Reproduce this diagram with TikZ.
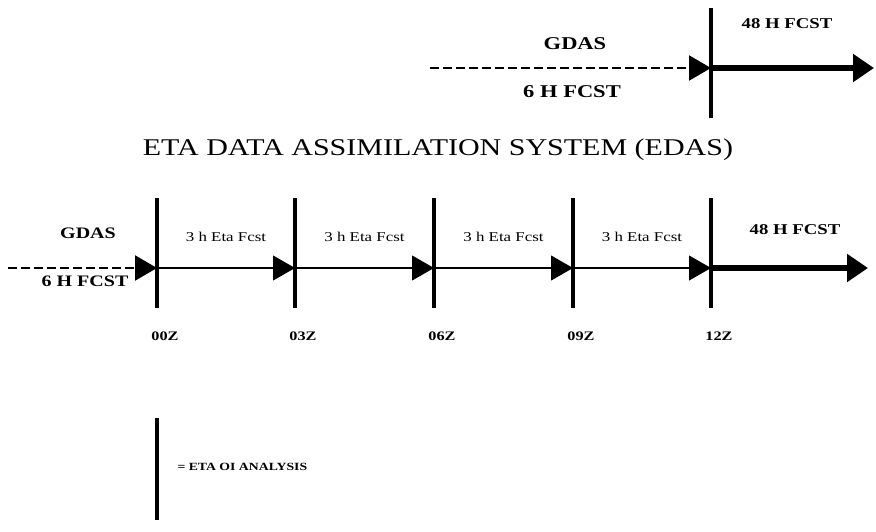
\documentclass[tikz,border=0pt]{standalone}
\usepackage{fontspec}
\setmainfont{Liberation Serif}
\newfontfamily\scanfont[FakeStretch=1.25]{Liberation Serif}
\usetikzlibrary{arrows.meta,calc}

\tikzstyle{fonte} = [font=\scanfont\bfseries\fontsize{18}{18}\selectfont]
\tikzstyle{fontemid} = [font=\scanfont\bfseries\fontsize{16}{16}\selectfont]
\tikzstyle{fontesmall} = [font=\scanfont\bfseries\fontsize{15}{15}\selectfont]
\tikzstyle{fontetime} = [font=\scanfont\bfseries\fontsize{13}{13}\selectfont]
\tikzstyle{fonteeta} = [font=\scanfont\fontsize{13.5}{13.5}\selectfont]
\tikzstyle{fontetiny} = [font=\scanfont\bfseries\fontsize{11}{11}\selectfont]
\tikzstyle{titlefont} = [font=\scanfont\fontsize{24}{24}\selectfont]
\tikzstyle{tick} = [line width=3.4pt]
\tikzstyle{gdas} = [line width=2.2pt, dash pattern=on 9pt off 4pt, -{Triangle[length=22pt,width=25pt]}]
\tikzstyle{eta} = [line width=1.1pt, -{Triangle[length=22pt,width=25pt]}]
\tikzstyle{fcst} = [line width=6pt, -{Triangle[length=21pt,width=27pt]}]

\begin{document}
\begin{tikzpicture}[x=1pt, y=-1pt]

    \useasboundingbox (0,0) rectangle (876,531);

    % GDAS cycle
    \coordinate (gstart) at (430,68);
    \coordinate (ganl) at (711,68);
    \coordinate (gend) at (874,68);
    \draw [tick] (711,8) -- (711,118);
    \draw [gdas] (gstart) -- (ganl);
    \draw [fcst] (ganl) -- (gend);
    \node at (575,44) [fonte] (ggdas) {GDAS};
    \node at (572,92) [fonte] (gsix) {6 H FCST};
    \node at (787,24) [fontesmall] (gfcst) {48 H FCST};

    % title
    \node at (438,150) [titlefont] (title) {ETA DATA ASSIMILATION SYSTEM (EDAS)};

    % EDAS cycle
    \coordinate (estart) at (8,268);
    \foreach \n/\x/\t in {0/157/00Z, 1/295/03Z, 2/434/06Z, 3/573/09Z, 4/711/12Z} {
        \coordinate (e\n) at (\x,268);
        \draw [tick] (\x,198) -- (\x,308);
        \node at (\x+8,336) [fontetime] (z\n) {\t};
    }
    \coordinate (eend) at (868,268);

    \draw [gdas] (estart) -- (e0);
    \foreach \a/\b in {0/1, 1/2, 2/3, 3/4} {
        \draw [eta] (e\a) -- (e\b);
        \node at ($(e\a)!0.5!(e\b)+(0,-31)$) [fonteeta] (lab\a) {3 h Eta Fcst};
    }
    \draw [fcst] (e4) -- (eend);
    \node at (88,233) [fontemid] (egdas) {GDAS};
    \node at (85,281) [fontemid] (esix) {6 H FCST};
    \node at (795,230) [fontesmall] (efcst) {48 H FCST};

    % legend
    \draw [tick] (157,418) -- (157,520);
    \node at (174,467) [fontetiny, anchor=west] (legend) {= ETA OI ANALYSIS};

\end{tikzpicture}
\end{document}
